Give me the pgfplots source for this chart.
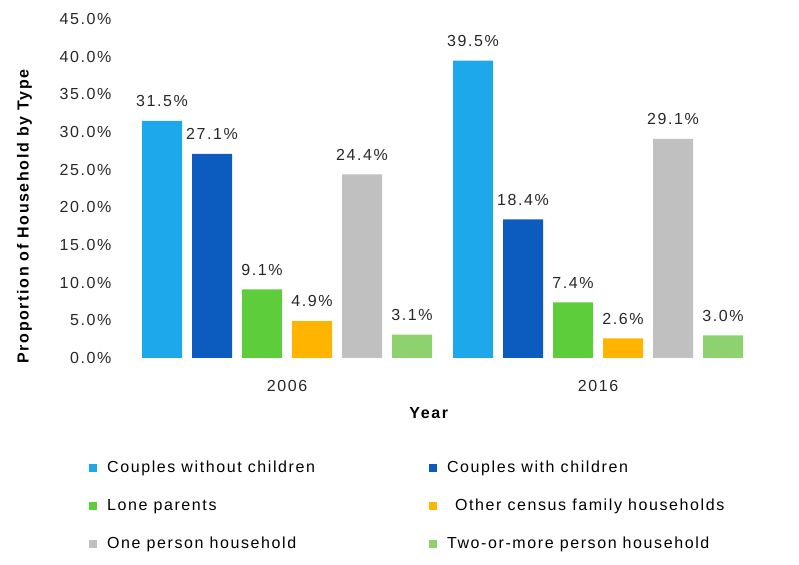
\documentclass[border=0pt]{standalone}
\usepackage{fontspec}
\setmainfont{Liberation Sans}[LetterSpace=10]
\usepackage{pgfplots}
\pgfplotsset{compat=1.18}
\definecolor{c1}{RGB}{28,168,234}
\definecolor{c2}{RGB}{12,92,192}
\definecolor{c3}{RGB}{94,205,60}
\definecolor{c4}{RGB}{255,180,0}
\definecolor{c5}{RGB}{192,192,192}
\definecolor{c6}{RGB}{142,210,112}
\definecolor{txt}{RGB}{40,40,40}
\begin{document}
\fontsize{16}{19}\selectfont
\begin{tikzpicture}[font=\fontsize{16}{19}\selectfont]
\useasboundingbox (0pt,0pt) rectangle (799pt,564pt);
\begin{axis}[
  at={(116pt,206pt)}, anchor=south west,
  scale only axis, width=653.1pt, height=338.8pt,
  xmin=-0.55, xmax=1.55, ymin=0, ymax=45,
  ybar=10pt, bar width=40pt,
  xtick={0,1}, xticklabels={2006,2016},
  ytick={0,5,...,45},
  /pgf/number format/assume math mode=true,
  yticklabel={\pgfmathprintnumber[fixed,fixed zerofill,precision=1]{\tick}\%},
  axis line style={draw=none}, major tick length=0pt,
  tick label style={text=txt},
  yticklabel style={xshift=1pt},
  xticklabel style={yshift=-17pt},
  xlabel={\textbf{Year}}, ylabel={\textbf{Proportion of Household by Type}},
  xlabel style={at={(axis description cs:0.48,-0.162)}, anchor=center, text=black},
  ylabel style={at={(axis description cs:-0.14,0.42)}, anchor=center, text=black},
  nodes near coords={\pgfmathprintnumber[fixed,fixed zerofill,precision=1]{\pgfplotspointmeta}\%},
  every node near coord/.append style={text=txt, yshift=8.5pt},
  legend image code/.code={\fill[#1] (0pt,-4pt) rectangle (8pt,4pt);},
  legend columns=2,
  legend cell align=left,
  legend style={at={(axis description cs:-0.046,-0.29)}, anchor=north west,
    draw=none, fill=none, row sep=19pt,
    nodes={text height=12pt, text depth=3pt, inner sep=2pt},
    /tikz/every odd column/.append style={column sep=8pt},
    /tikz/every even column/.append style={column sep=112pt}},
]
\addplot[fill=c1, draw=none] coordinates {(0,31.5) (1,39.5)};
\addplot[fill=c2, draw=none] coordinates {(0,27.1) (1,18.4)};
\addplot[fill=c3, draw=none] coordinates {(0,9.1) (1,7.4)};
\addplot[fill=c4, draw=none] coordinates {(0,4.9) (1,2.6)};
\addplot[fill=c5, draw=none] coordinates {(0,24.4) (1,29.1)};
\addplot[fill=c6, draw=none] coordinates {(0,3.1) (1,3.0)};
\legend{Couples without children, Couples with children, Lone parents, \hspace{8pt}Other census family households, One person household, Two-or-more person household}
\end{axis}
\end{tikzpicture}
\end{document}
